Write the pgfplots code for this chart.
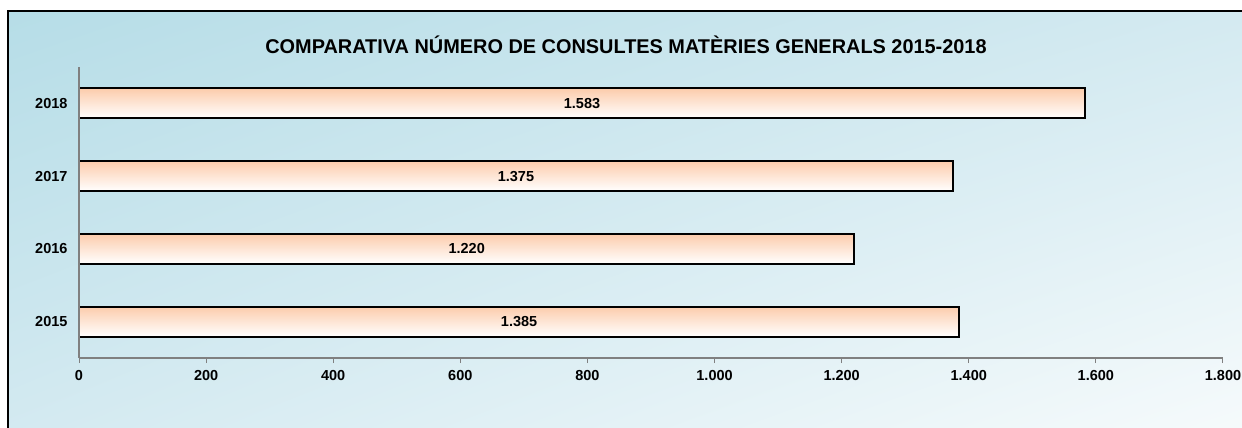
\documentclass[border=0pt]{standalone}
\usepackage{fontspec}
\setmainfont{Liberation Sans}
\usepackage{pgfplots}
\pgfplotsset{compat=1.18}
\usetikzlibrary{shadings}
\definecolor{bgA}{RGB}{182,221,231}
\definecolor{bgM}{RGB}{212,234,241}
\definecolor{bgB}{RGB}{247,251,252}
\definecolor{peach}{RGB}{252,204,172}
\definecolor{axgray}{RGB}{128,128,128}
\pgfplotsset{mybar/.style={xbar, bar width=30pt, bar shift=0pt, draw=black, line width=1.8pt, top color=peach, bottom color=white}}
\begin{document}
\begin{tikzpicture}[x=1pt,y=1pt]
\useasboundingbox (0,0) rectangle (1242,-428);
\begin{scope}
\clip (0,0) rectangle (1242,-428);
\shade[upper left=bgA, upper right=bgM, lower left=bgM, lower right=bgB] (8,-11) rectangle (1260,-440);
\draw[black, line width=1.2pt] (8,-440) -- (8,-11) -- (1260,-11);
\end{scope}
\node[font=\bfseries\fontsize{19.9}{22}\selectfont] at (626,-45) {COMPARATIVA NÚMERO DE CONSULTES MATÈRIES GENERALS 2015-2018};
\begin{axis}[
  at={(79pt,-358pt)}, anchor=south west,
  scale only axis, width=1144pt, height=291pt,
  xmin=0, xmax=1800, ymin=-0.5, ymax=3.5,
  clip=false, axis on top=true,
  axis x line=bottom, axis y line=left,
  axis line style={-, draw=axgray, line width=1.2pt},
  xtick={0,200,...,1800},
  ytick={0,1,2,3}, yticklabels={2015,2016,2017,2018},
  tick align=outside,
  major tick length=5pt,
  x tick style={draw=axgray, line width=1pt},
  y tick style={draw=none},
  x tick label style={font=\bfseries\fontsize{14.5}{16}\selectfont, yshift=-4pt, /pgf/number format/.cd, fixed, precision=0, 1000 sep={.}, assume math mode=true},
  y tick label style={font=\bfseries\fontsize{14.5}{16}\selectfont, xshift=-3pt},
  scaled x ticks=false,
]
\addplot[mybar] coordinates {(1385,0)};
\addplot[mybar] coordinates {(1220,1)};
\addplot[mybar] coordinates {(1375,2)};
\addplot[mybar] coordinates {(1583,3)};
\addplot[draw=none, only marks, mark=none, nodes near coords, point meta=explicit,
  nodes near coords style={anchor=center, font=\bfseries\fontsize{14.5}{16}\selectfont, /pgf/number format/.cd, fixed, precision=0, 1000 sep={.}, assume math mode=true}]
  table[x expr=\thisrow{v}/2, y=c, meta=v] {
c v
0 1385
1 1220
2 1375
3 1583
};
\end{axis}
\end{tikzpicture}
\end{document}
